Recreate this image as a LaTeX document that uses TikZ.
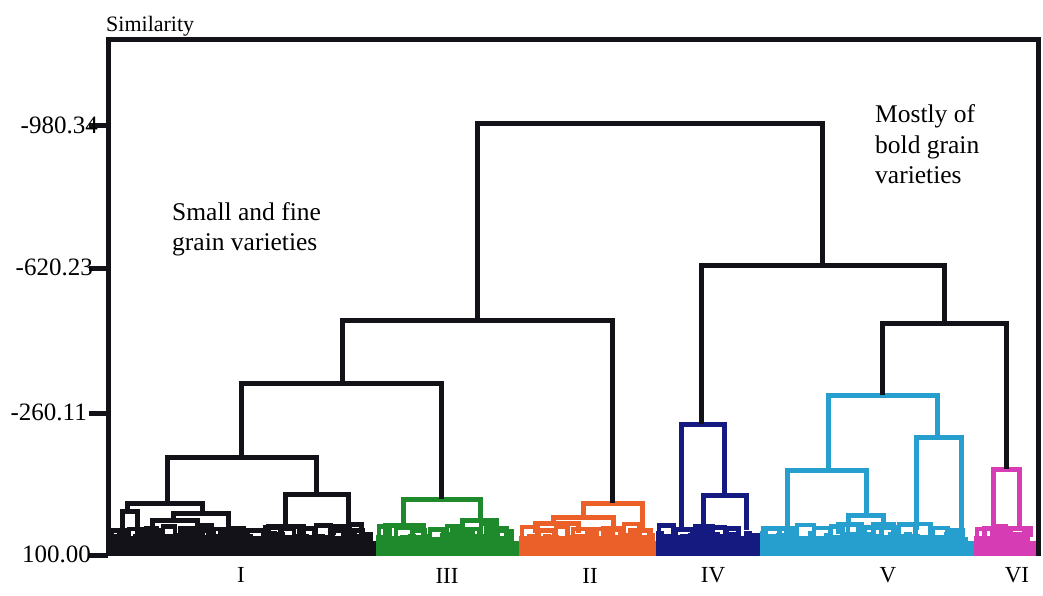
\documentclass[tikz,border=0pt]{standalone}
\usepackage{fontspec}
\setmainfont{Liberation Serif}
\definecolor{clI}{RGB}{18,18,24}
\definecolor{clIII}{RGB}{30,138,44}
\definecolor{clII}{RGB}{234,96,40}
\definecolor{clIV}{RGB}{20,26,128}
\definecolor{clV}{RGB}{38,158,206}
\definecolor{clVI}{RGB}{214,60,180}
\tikzset{
  link/.style={line width=5pt, line join=miter},
  leaf/.style={line width=4.5pt, line join=miter},
  frameline/.style={line width=5pt, line join=miter, clI},
  ticklabel/.style={font=\fontsize{25}{27}\selectfont, inner sep=0pt},
  note/.style={font=\fontsize{25.5}{30}\selectfont, inner sep=0pt, anchor=base west},
  grouplabel/.style={font=\fontsize{23}{25}\selectfont, inner sep=0pt, anchor=base}
}
% one merge: left leg from (#2,#3), right leg from (#4,#5), joined at height #6
\newcommand\dmerge[6]{\draw[link,#1] (#2,#3) |- (#4,#6) -- (#4,#5);}
% dense band of leaves for one cluster, from x=#2 to x=#3
\newcommand\leafband[4]{%
  \fill[#1] (#2,541) rectangle (#3,556);
  \pgfmathsetseed{#4}
  \pgfmathtruncatemacro\nb{(#3-#2-20)/17}
  \foreach \i in {0,...,\nb}{%
    \pgfmathsetmacro\xa{#2+3+17*\i}
    \pgfmathsetmacro\xb{\xa+11+6*rnd}
    \pgfmathsetmacro\ya{524+7*rnd}
    \draw[leaf,#1] (\xa,548) |- (\xb,\ya) -- (\xb,548);
  }
  \pgfmathtruncatemacro\nc{(#3-#2-8)/8}
  \foreach \i in {0,...,\nc}{%
    \pgfmathsetmacro\xa{#2+2+8*\i}
    \pgfmathsetmacro\xb{\xa+4}
    \pgfmathsetmacro\ya{533+6*rnd}
    \draw[leaf,#1] (\xa,548) |- (\xb,\ya) -- (\xb,548);
  }}
\begin{document}
\begin{tikzpicture}[x=1pt,y=-1pt]
\useasboundingbox (0,0) rectangle (1043,596);

% leaves of the six clusters
\leafband{clI}{109}{376}{11}
\leafband{clIII}{376}{519}{23}
\leafband{clII}{519}{656}{37}
\leafband{clIV}{656}{760}{41}
\leafband{clV}{760}{974}{53}
\leafband{clVI}{974}{1037}{67}

% cluster I
\dmerge{clI}{127}{511}{202}{513}{503}
\dmerge{clI}{122}{535}{137}{535}{511}
\dmerge{clI}{173}{520}{228}{530}{513}
\dmerge{clI}{152}{530}{197}{530}{520}
\dmerge{clI}{143}{535}{162}{535}{530}
\dmerge{clI}{185}{535}{208}{535}{530}
\dmerge{clI}{220}{535}{240}{535}{530}
\dmerge{clI}{285}{526}{348}{530}{494}
\dmerge{clI}{268}{535}{303}{535}{526}
\dmerge{clI}{333}{535}{362}{535}{530}
\dmerge{clI}{167}{503}{316}{494}{457}

% cluster III
\dmerge{clIII}{403}{525}{480}{520}{499}
\dmerge{clIII}{385}{535}{423}{535}{525}
\dmerge{clIII}{462}{530}{496}{528}{520}
\dmerge{clIII}{452}{536}{472}{536}{530}
\dmerge{clIII}{486}{536}{506}{536}{528}

% cluster II
\dmerge{clII}{583}{517}{642}{530}{503}
\dmerge{clII}{553}{523}{613}{528}{517}
\dmerge{clII}{535}{533}{578}{533}{523}
\dmerge{clII}{603}{535}{620}{535}{528}
\dmerge{clII}{630}{536}{650}{536}{530}

% cluster IV
\dmerge{clIV}{681}{532}{724}{495}{424}
\dmerge{clIV}{703}{526}{746}{530}{495}
\dmerge{clIV}{695}{535}{712}{535}{526}

% cluster V
\dmerge{clV}{828}{470}{937}{437}{395}
\dmerge{clV}{787}{530}{866}{515}{470}
\dmerge{clV}{848}{524}{883}{524}{515}
\dmerge{clV}{838}{534}{858}{534}{524}
\dmerge{clV}{873}{534}{893}{534}{524}
\dmerge{clV}{916}{530}{961}{530}{437}

% cluster VI
\dmerge{clVI}{993}{528}{1019}{528}{469}
\dmerge{clVI}{984}{537}{1000}{537}{528}
\dmerge{clVI}{1008}{537}{1030}{537}{528}

% upper levels joining the clusters
\dmerge{clI}{241}{457}{441}{499}{383}
\dmerge{clI}{342}{383}{612}{503}{320}
\dmerge{clI}{882}{395}{1006}{469}{323}
\dmerge{clI}{701}{424}{944}{323}{265}
\dmerge{clI}{477}{320}{822}{265}{124}

% frame and similarity axis
\draw[frameline] (108,556) -- (108,40) -- (1038,40) -- (1038,556);
\foreach \yy in {126,268,413,555}{\draw[frameline] (89,\yy) -- (108,\yy);}
\node[ticklabel, anchor=east] (t1) at (98,125) {-980.34};
\node[ticklabel, anchor=east] (t2) at (93,267) {-620.23};
\node[ticklabel, anchor=east] (t3) at (87,412) {-260.11};
\node[ticklabel, anchor=east] (t4) at (91,554) {100.00};
\node[font=\fontsize{22}{24}\selectfont, inner sep=0pt, anchor=base west] (ax) at (106,32) {Similarity};

% annotations (the base anchor sits on the last line)
\node[note, align=left] (small) at (172,250) {Small and fine\\grain varieties};
\node[note, align=left] (bold) at (875,183) {Mostly of\\bold grain\\varieties};

% cluster names
\node[grouplabel] (gI) at (241,582) {I};
\node[grouplabel] (gIII) at (447,583) {III};
\node[grouplabel] (gII) at (590,583) {II};
\node[grouplabel] (gIV) at (713,582) {IV};
\node[grouplabel] (gV) at (888,582) {V};
\node[grouplabel] (gVI) at (1017,582) {VI};
\end{tikzpicture}
\end{document}
